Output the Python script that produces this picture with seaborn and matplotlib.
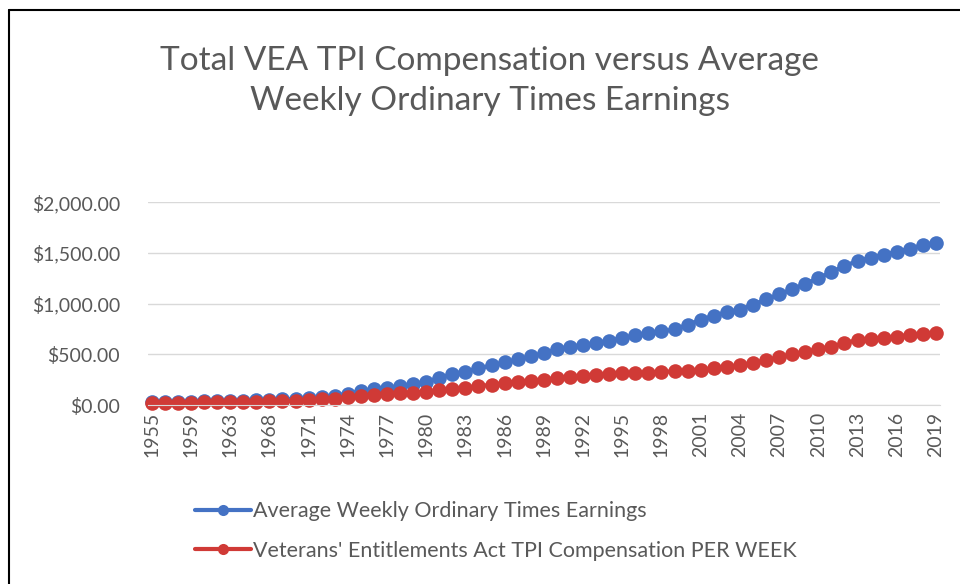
#!/usr/bin/env python3

# Import libraries
import pandas as pd
import matplotlib.pyplot as plt
import seaborn as sns

# Data (weekly dollars)
years = ["1955", "1957", "1958", "1959", "1961", "1962", "1963", "1965", "1966",
         "1968", "1969", "1970"] + [str(y) for y in range(1971, 2020)]

awote = [25, 28, 30, 32, 35, 37, 39, 43, 46, 52, 57, 62,
         70, 78, 90, 112, 135, 155, 170, 185, 205, 230,
         265, 305, 330, 360, 390, 420, 450, 480, 510, 550,
         575, 590, 610, 635, 660, 685, 705, 725, 745, 790,
         840, 880, 915, 940, 990, 1040, 1090, 1140, 1195, 1250,
         1310, 1370, 1420, 1450, 1480, 1510, 1540, 1575, 1600]

vea = [20, 22, 23, 24, 26, 27, 28, 30, 32, 35, 38, 42,
       48, 55, 63, 75, 88, 98, 108, 115, 122, 130,
       145, 158, 170, 185, 200, 215, 230, 240, 250, 265,
       280, 290, 298, 305, 312, 316, 320, 326, 332, 340,
       348, 360, 375, 390, 415, 440, 470, 500, 525, 550,
       575, 610, 640, 650, 660, 675, 690, 700, 710]

series_names = ["Average Weekly Ordinary Times Earnings",
                "Veterans' Entitlements Act TPI Compensation PER WEEK"]
title = "Total VEA TPI Compensation versus Average\nWeekly Ordinary Times Earnings"
y_ticks = [0, 500, 1000, 1500, 2000]

GREY = "#595959"


def build_frame():
    ''' Long-form table for seaborn. '''
    df = pd.DataFrame({"Year": years, series_names[0]: awote, series_names[1]: vea})
    df["pos"] = range(len(df))
    return df.melt(id_vars=["Year", "pos"], var_name="Series", value_name="Value")


def plot(df):
    sns.set_style("white")
    plt.rcParams["font.family"] = ["Lato", "DejaVu Sans"]

    fig = plt.figure(figsize=(9.6, 5.84), dpi=100)
    ax = fig.add_axes([0.154, 0.3065, 0.825, 0.3475])

    sns.lineplot(data=df, x="pos", y="Value", hue="Series",
                 palette=["#4472C4", "#D03A36"], marker="o", markersize=10.5,
                 markeredgewidth=0, linewidth=3, ax=ax, clip_on=False)

    ax.set_ylim(0, 2000)
    ax.set_xlim(-0.3, len(years) - 0.7)
    ax.set_yticks(y_ticks)
    ax.set_yticklabels(["${:,.2f}".format(v) for v in y_ticks])
    ax.set_xticks(range(0, len(years), 3))
    ax.set_xticklabels(years[::3], rotation=90)
    ax.tick_params(axis="both", colors=GREY, labelsize=14, length=0, pad=5)
    ax.tick_params(axis="y", pad=20)
    ax.yaxis.grid(True, color="#D9D9D9", linewidth=1)
    for side in ["top", "right", "left"]:
        ax.spines[side].set_visible(False)
    ax.spines["bottom"].set_color("#D9D9D9")
    ax.set_xlabel("")
    ax.set_ylabel("")

    # Legend below the plot
    handles, labels = ax.get_legend_handles_labels()
    for h in handles:
        h.set_markersize(8)
    ax.legend(handles, labels, loc="upper left", bbox_to_anchor=(0.035, -0.38),
              frameon=False, fontsize=15.5, labelcolor=GREY, handlelength=2.6,
              handletextpad=0.1, labelspacing=0.9)

    fig.text(0.51, 0.922, title, ha="center", va="top", fontsize=24,
             color=GREY, linespacing=1.42)

    # Black frame on top and left edges like the source screenshot
    fig.add_artist(plt.Line2D([0.009, 1.0], [0.983, 0.983], color="black",
                              linewidth=1.5, transform=fig.transFigure))
    fig.add_artist(plt.Line2D([0.009, 0.009], [0.0, 0.983], color="black",
                              linewidth=1.5, transform=fig.transFigure))
    return fig


def main():
    df = build_frame()
    fig = plot(df)
    fig.savefig("out.png", dpi=100)


if __name__ == '__main__':
    main()
